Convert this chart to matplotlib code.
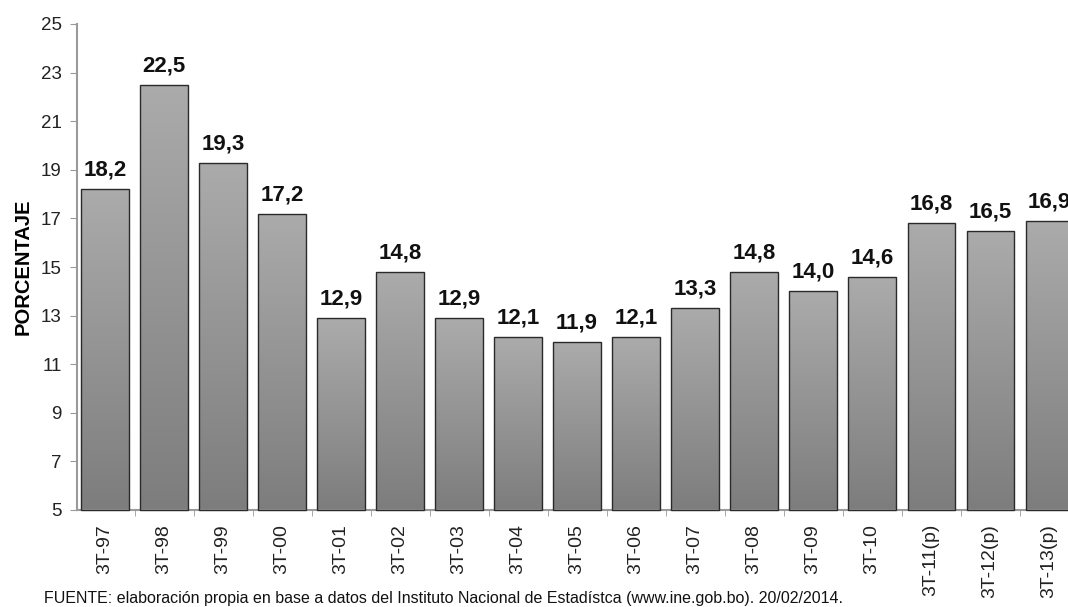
import numpy as np
import matplotlib
matplotlib.use('Agg')
import matplotlib.pyplot as plt
from matplotlib.colors import LinearSegmentedColormap

# Data
periodos = ['3T-97', '3T-98', '3T-99', '3T-00', '3T-01', '3T-02', '3T-03', '3T-04', '3T-05',
            '3T-06', '3T-07', '3T-08', '3T-09', '3T-10', '3T-11(p)', '3T-12(p)', '3T-13(p)']
valores = [18.2, 22.5, 19.3, 17.2, 12.9, 14.8, 12.9, 12.1, 11.9,
           12.1, 13.3, 14.8, 14.0, 14.6, 16.8, 16.5, 16.9]
y_ticks = [5, 7, 9, 11, 13, 15, 17, 19, 21, 23, 25]

plt.rcParams['font.family'] = ['Liberation Sans', 'DejaVu Sans']

fig = plt.figure(figsize=(10.68, 6.07), dpi=100)
ax = fig.add_axes([77 / 1068, 1 - 510 / 607, 1 - 77 / 1068, (510 - 24) / 607])

ymin = 5
width = 0.8
grad = LinearSegmentedColormap.from_list('gris', ['#7d7d7d', '#ababab'])
bars = ax.bar(range(len(valores)), [v - ymin for v in valores], bottom=ymin, width=width,
              facecolor='none', edgecolor='#2a2a2a', linewidth=1.0, zorder=3, clip_on=False)

# gradient fill inside each bar
g = np.linspace(0, 1, 256).reshape(-1, 1)
for b in bars:
    x0, y0 = b.get_x(), b.get_y()
    im = ax.imshow(g, cmap=grad, origin='lower', aspect='auto',
                   extent=[x0, x0 + b.get_width(), y0, y0 + b.get_height()], zorder=2)
    im.set_clip_path(b)

for i, v in enumerate(valores):
    ax.text(i, v + 0.35, f'{v:.1f}'.replace('.', ','), ha='center', va='bottom',
            fontsize=16, fontweight='bold', color='#111111')

ax.set_yticks(y_ticks)
ax.set_yticklabels([str(t) for t in y_ticks], fontsize=13.5, color='#222222')
ax.set_xticks(range(len(periodos)))
ax.set_xticklabels(periodos, rotation=90, fontsize=14, color='#222222')
ax.set_xticks(np.arange(0.5, len(periodos), 1), minor=True)
ax.tick_params(axis='x', which='major', length=0, pad=10)
ax.tick_params(axis='x', which='minor', length=4, color='#999999')
ax.tick_params(axis='y', length=5, color='#999999', pad=6)

# limits after the ticks, set_xticks widens the view otherwise
ax.set_xlim(-0.475, 16.32)
ax.set_ylim(5, 25)

for s in ['top', 'right']:
    ax.spines[s].set_visible(False)
ax.spines['left'].set_color('#9a9a9a')
ax.spines['bottom'].set_color('#9a9a9a')
ax.spines['left'].set_linewidth(1.5)
ax.spines['bottom'].set_linewidth(1.5)

ax.set_ylabel('PORCENTAJE', fontsize=14.5, fontweight='bold', labelpad=6)

fig.text(44 / 1068, 1 - 599 / 607,
         'FUENTE: elaboración propia en base a datos del Instituto Nacional de Estadístca (www.ine.gob.bo). 20/02/2014.',
         fontsize=11.5, va='center', ha='left', color='#111111')

fig.savefig('out.png', dpi=100)
